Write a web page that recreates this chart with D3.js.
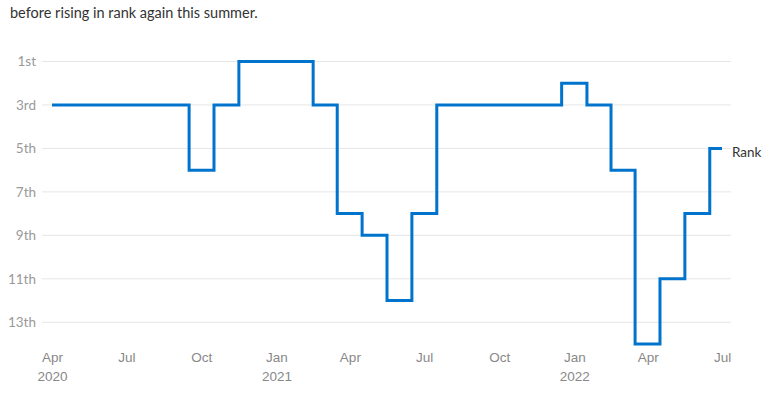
<!DOCTYPE html>
<html>
<head>
<meta charset="utf-8">
<script src="https://cdn.jsdelivr.net/npm/d3@7"></script>
<style>
  html, body { margin: 0; padding: 0; background: #fff; }
  svg { display: block; font-family: "Source Sans Pro", Lato, "Noto Sans", sans-serif; }
</style>
</head>
<body>
<svg id="chart" width="780" height="405"></svg>
<script>
const months = ["2020-04","2020-05","2020-06","2020-07","2020-08","2020-09","2020-10","2020-11","2020-12",
  "2021-01","2021-02","2021-03","2021-04","2021-05","2021-06","2021-07","2021-08","2021-09","2021-10","2021-11","2021-12",
  "2022-01","2022-02","2022-03","2022-04","2022-05","2022-06","2022-07"];
const ranks = [3,3,3,3,3,3,6,3,1,1,1,3,8,9,12,8,3,3,3,3,3,2,3,6,14,11,8,5];
const yTicks = [1,3,5,7,9,11,13];
const yTickLabels = ["1st","3rd","5th","7th","9th","11th","13th"];
const xTicks = ["2020-04","2020-07","2020-10","2021-01","2021-04","2021-07","2021-10","2022-01","2022-04","2022-07"];
const subtitle = "before rising in rank again this summer.";
const seriesName = "Rank";

const parse = d3.timeParse("%Y-%m");
const data = months.map((m, i) => ({ date: parse(m), rank: ranks[i] }));

const svg = d3.select("#chart");
const x = d3.scaleTime().domain([parse("2020-04"), parse("2022-07")]).range([52, 722]);
const y = d3.scaleLinear().domain([1, 14]).range([61.5, 344]);

svg.append("text")
  .attr("x", 10).attr("y", 18)
  .attr("fill", "#333").attr("font-size", 14.5)
  .text(subtitle);

// grid + y labels
const gy = svg.append("g");
gy.selectAll("line").data(yTicks).join("line")
  .attr("x1", 42).attr("x2", 731)
  .attr("y1", d => y(d)).attr("y2", d => y(d))
  .attr("stroke", "#e6e6e6").attr("stroke-width", 1);
gy.selectAll("text").data(yTicks).join("text")
  .attr("x", 36).attr("y", d => y(d)).attr("dy", "0.35em")
  .attr("text-anchor", "end").attr("fill", "#999").attr("font-size", 13.5)
  .text((d, i) => yTickLabels[i]);

// x axis
const xAxis = d3.axisBottom(x)
  .tickValues(xTicks.map(parse))
  .tickSize(0).tickPadding(0)
  .tickFormat(d3.timeFormat("%b"));
const gx = svg.append("g").attr("transform", "translate(0,352)").call(xAxis);
gx.select(".domain").remove();
gx.selectAll("text").attr("fill", "#888").attr("font-size", 13.5).attr("font-family", null).attr("dy", "0.71em");
gx.selectAll(".tick").filter(d => d.getMonth() === 3 && d.getFullYear() === 2020 || d.getMonth() === 0)
  .append("text")
  .attr("y", 19).attr("dy", "0.71em")
  .attr("text-anchor", "middle").attr("fill", "#888").attr("font-size", 13.5)
  .text(d => d.getFullYear());

// line
const line = d3.line().x(d => x(d.date)).y(d => y(d.rank)).curve(d3.curveStep);
svg.append("path").datum(data)
  .attr("d", line)
  .attr("fill", "none").attr("stroke", "#0074cc").attr("stroke-width", 3)
  .attr("stroke-linejoin", "miter").attr("stroke-linecap", "butt");

const last = data[data.length - 1];
svg.append("text")
  .attr("x", x(last.date) + 10).attr("y", y(last.rank) + 4).attr("dy", "0.35em")
  .attr("fill", "#333").attr("font-size", 13.5)
  .text(seriesName);
</script>
</body>
</html>
